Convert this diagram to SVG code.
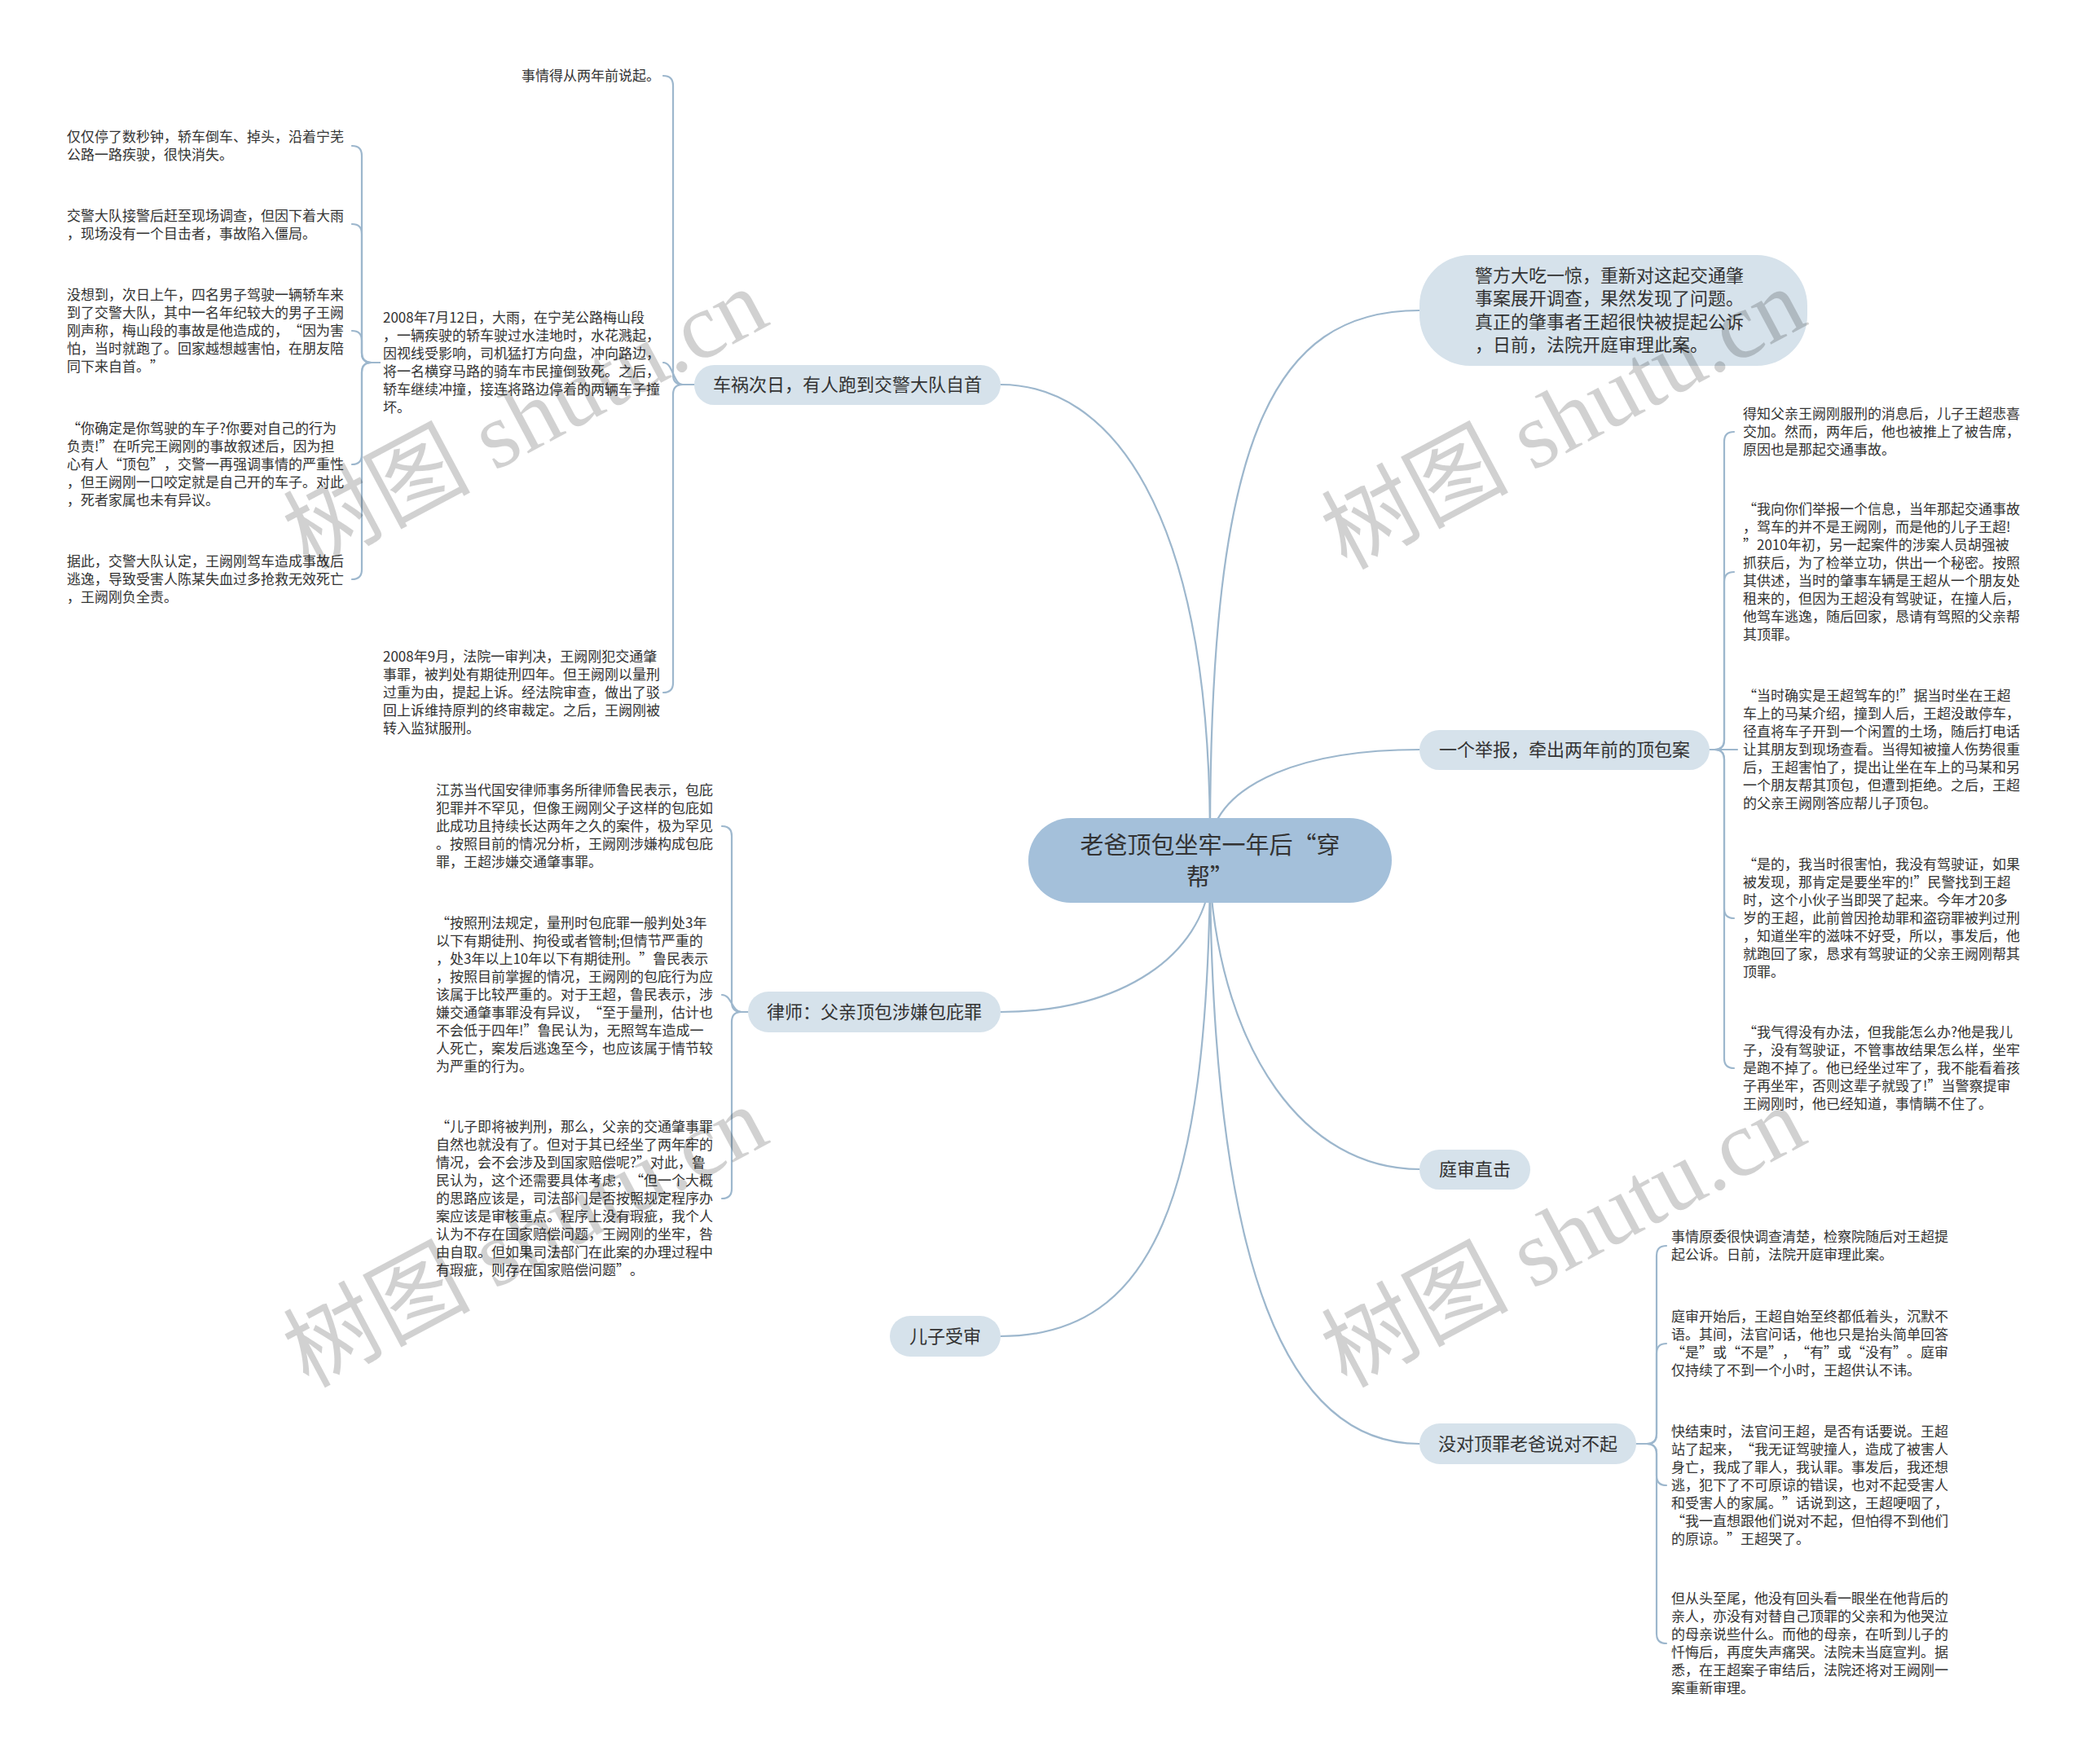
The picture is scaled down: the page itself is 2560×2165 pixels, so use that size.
<svg xmlns="http://www.w3.org/2000/svg" width="2560" height="2165" viewBox="0 0 2560 2165">
<style>
text{text-spacing-trim:space-all}
.lk{fill:none;stroke:#9db7cd;stroke-width:2.2;stroke-linecap:round}
.lf{font-family:'Noto Sans CJK SC','Liberation Sans',sans-serif;font-size:17px;fill:#333}
.n1 rect{fill:#d6e2eb}
.n1 text{font-family:'Noto Sans CJK SC','Liberation Sans',sans-serif;font-size:22px;fill:#333;text-anchor:middle}
.rt rect{fill:#a4c0da}
.rt text{font-family:'Noto Sans CJK SC','Liberation Sans',sans-serif;font-size:29px;fill:#333;text-anchor:middle}
.wm{font-family:'Liberation Serif','Noto Sans CJK SC',serif;font-size:115px;fill:#000;fill-opacity:0.18}
</style>
<rect width="2560" height="2165" fill="#fff"/>
<g id="connectors">
<path class="lk" d="M1485,1030 C1485,540 1560,381 1742,381"/>
<path class="lk" d="M1485,1030 C1485,620 1360,472 1228,472"/>
<path class="lk" d="M1485,1030 C1500,960 1600,920 1742,920"/>
<path class="lk" d="M1485,1080 C1475,1170 1380,1242 1228,1242"/>
<path class="lk" d="M1485,1080 C1500,1290 1600,1435 1742,1435"/>
<path class="lk" d="M1485,1080 C1480,1460 1420,1640 1228,1640"/>
<path class="lk" d="M1485,1080 C1490,1560 1580,1772 1742,1772"/>
<path class="lk" d="M852,472 H838 Q826,472 826,460 V105 Q826,93 814,93"/>
<path class="lk" d="M852,472 H838 C826,472 826,445 814,445"/>
<path class="lk" d="M852,472 H838 Q826,472 826,484 V838 Q826,850 814,850"/>
<path class="lk" d="M466,445 H456 Q444,445 444,433 V191 Q444,179 432,179"/>
<path class="lk" d="M466,445 H456 Q444,445 444,433 V287 Q444,275 432,275"/>
<path class="lk" d="M466,445 H456 Q444,445 444,433 V418 Q444,406 432,406"/>
<path class="lk" d="M466,445 H456 Q444,445 444,457 V558 Q444,570 432,570"/>
<path class="lk" d="M466,445 H456 Q444,445 444,457 V699 Q444,711 432,711"/>
<path class="lk" d="M918,1242 H910 Q898,1242 898,1230 V1026 Q898,1014 886,1014"/>
<path class="lk" d="M918,1242 H910 C898,1242 898,1221 886,1221"/>
<path class="lk" d="M918,1242 H910 Q898,1242 898,1254 V1459 Q898,1471 886,1471"/>
<path class="lk" d="M2098,920 H2104 Q2116,920 2116,908 V542 Q2116,530 2128,530"/>
<path class="lk" d="M2098,920 H2104 Q2116,920 2116,908 V714 Q2116,702 2128,702"/>
<path class="lk" d="M2098,920 H2132"/>
<path class="lk" d="M2098,920 H2104 Q2116,920 2116,932 V1115 Q2116,1127 2128,1127"/>
<path class="lk" d="M2098,920 H2104 Q2116,920 2116,932 V1299 Q2116,1311 2128,1311"/>
<path class="lk" d="M2008,1772 H2021 Q2033,1772 2033,1760 V1541 Q2033,1529 2045,1529"/>
<path class="lk" d="M2008,1772 H2021 Q2033,1772 2033,1760 V1661 Q2033,1649 2045,1649"/>
<path class="lk" d="M2008,1772 H2021 Q2033,1772 2033,1784 V1811 Q2033,1823 2045,1823"/>
<path class="lk" d="M2008,1772 H2021 Q2033,1772 2033,1784 V2005 Q2033,2017 2045,2017"/>
</g>
<g id="node-root" class="rt">
<rect x="1262" y="1004" width="446" height="104" rx="52"/>
<text x="1485" y="1048">老爸顶包坐牢一年后“穿</text>
<text x="1485" y="1087">帮”</text>
</g>
<g id="node-jingfang" class="n1">
<rect x="1742" y="313" width="476" height="136" rx="62"/>
<text x="1810" y="346" style="text-anchor:start">警方大吃一惊，重新对这起交通肇</text>
<text x="1810" y="374" style="text-anchor:start">事案展开调查，果然发现了问题。</text>
<text x="1810" y="403" style="text-anchor:start">真正的肇事者王超很快被提起公诉</text>
<text x="1810" y="431" style="text-anchor:start">，日前，法院开庭审理此案。</text>
</g>
<g id="node-chehuo" class="n1">
<rect x="852" y="448" width="376" height="49" rx="24.5"/>
<text x="1040" y="480">车祸次日，有人跑到交警大队自首</text>
</g>
<g id="node-jubao" class="n1">
<rect x="1742" y="896" width="356" height="49" rx="24.5"/>
<text x="1920" y="928">一个举报，牵出两年前的顶包案</text>
</g>
<g id="node-lvshi" class="n1">
<rect x="918" y="1217" width="310" height="50" rx="25"/>
<text x="1073" y="1250">律师：父亲顶包涉嫌包庇罪</text>
</g>
<g id="node-tingshen" class="n1">
<rect x="1742" y="1411" width="136" height="49" rx="24.5"/>
<text x="1810" y="1443">庭审直击</text>
</g>
<g id="node-erzi" class="n1">
<rect x="1092" y="1615" width="136" height="50" rx="25"/>
<text x="1160" y="1648">儿子受审</text>
</g>
<g id="node-meidui" class="n1">
<rect x="1742" y="1747" width="266" height="50" rx="25"/>
<text x="1875" y="1780">没对顶罪老爸说对不起</text>
</g>
<g id="leaf-a1" class="lf"><text x="640" y="99">事情得从两年前说起。</text></g>
<g id="leaf-a2" class="lf">
<text x="470" y="396">2008年7月12日，大雨，在宁芜公路梅山段</text>
<text x="470" y="418">，一辆疾驶的轿车驶过水洼地时，水花溅起，</text>
<text x="470" y="440">因视线受影响，司机猛打方向盘，冲向路边，</text>
<text x="470" y="462">将一名横穿马路的骑车市民撞倒致死。之后，</text>
<text x="470" y="484">轿车继续冲撞，接连将路边停着的两辆车子撞</text>
<text x="470" y="506">坏。</text>
</g>
<g id="leaf-a3" class="lf">
<text x="470" y="812">2008年9月，法院一审判决，王阙刚犯交通肇</text>
<text x="470" y="834">事罪，被判处有期徒刑四年。但王阙刚以量刑</text>
<text x="470" y="856">过重为由，提起上诉。经法院审查，做出了驳</text>
<text x="470" y="878">回上诉维持原判的终审裁定。之后，王阙刚被</text>
<text x="470" y="900">转入监狱服刑。</text>
</g>
<g id="leaf-l1" class="lf">
<text x="82" y="174">仅仅停了数秒钟，轿车倒车、掉头，沿着宁芜</text>
<text x="82" y="196">公路一路疾驶，很快消失。</text>
</g>
<g id="leaf-l2" class="lf">
<text x="82" y="271">交警大队接警后赶至现场调查，但因下着大雨</text>
<text x="82" y="293">，现场没有一个目击者，事故陷入僵局。</text>
</g>
<g id="leaf-l3" class="lf">
<text x="82" y="368">没想到，次日上午，四名男子驾驶一辆轿车来</text>
<text x="82" y="390">到了交警大队，其中一名年纪较大的男子王阙</text>
<text x="82" y="412">刚声称，梅山段的事故是他造成的，“因为害</text>
<text x="82" y="434">怕，当时就跑了。回家越想越害怕，在朋友陪</text>
<text x="82" y="456">同下来自首。”</text>
</g>
<g id="leaf-l4" class="lf">
<text x="82" y="532">“你确定是你驾驶的车子?你要对自己的行为</text>
<text x="82" y="554">负责!”在听完王阙刚的事故叙述后，因为担</text>
<text x="82" y="576">心有人“顶包”，交警一再强调事情的严重性</text>
<text x="82" y="598">，但王阙刚一口咬定就是自己开的车子。对此</text>
<text x="82" y="620">，死者家属也未有异议。</text>
</g>
<g id="leaf-l5" class="lf">
<text x="82" y="695">据此，交警大队认定，王阙刚驾车造成事故后</text>
<text x="82" y="717">逃逸，导致受害人陈某失血过多抢救无效死亡</text>
<text x="82" y="739">，王阙刚负全责。</text>
</g>
<g id="leaf-b1" class="lf">
<text x="535" y="976">江苏当代国安律师事务所律师鲁民表示，包庇</text>
<text x="535" y="998">犯罪并不罕见，但像王阙刚父子这样的包庇如</text>
<text x="535" y="1020">此成功且持续长达两年之久的案件，极为罕见</text>
<text x="535" y="1042">。按照目前的情况分析，王阙刚涉嫌构成包庇</text>
<text x="535" y="1064">罪，王超涉嫌交通肇事罪。</text>
</g>
<g id="leaf-b2" class="lf">
<text x="535" y="1139">“按照刑法规定，量刑时包庇罪一般判处3年</text>
<text x="535" y="1161">以下有期徒刑、拘役或者管制;但情节严重的</text>
<text x="535" y="1183">，处3年以上10年以下有期徒刑。”鲁民表示</text>
<text x="535" y="1205">，按照目前掌握的情况，王阙刚的包庇行为应</text>
<text x="535" y="1227">该属于比较严重的。对于王超，鲁民表示，涉</text>
<text x="535" y="1249">嫌交通肇事罪没有异议，“至于量刑，估计也</text>
<text x="535" y="1271">不会低于四年!”鲁民认为，无照驾车造成一</text>
<text x="535" y="1293">人死亡，案发后逃逸至今，也应该属于情节较</text>
<text x="535" y="1315">为严重的行为。</text>
</g>
<g id="leaf-b3" class="lf">
<text x="535" y="1389">“儿子即将被判刑，那么，父亲的交通肇事罪</text>
<text x="535" y="1411">自然也就没有了。但对于其已经坐了两年牢的</text>
<text x="535" y="1433">情况，会不会涉及到国家赔偿呢?”对此，鲁</text>
<text x="535" y="1455">民认为，这个还需要具体考虑，“但一个大概</text>
<text x="535" y="1477">的思路应该是，司法部门是否按照规定程序办</text>
<text x="535" y="1499">案应该是审核重点。程序上没有瑕疵，我个人</text>
<text x="535" y="1521">认为不存在国家赔偿问题，王阙刚的坐牢，咎</text>
<text x="535" y="1543">由自取。但如果司法部门在此案的办理过程中</text>
<text x="535" y="1565">有瑕疵，则存在国家赔偿问题”。</text>
</g>
<g id="leaf-c1" class="lf">
<text x="2139" y="514">得知父亲王阙刚服刑的消息后，儿子王超悲喜</text>
<text x="2139" y="536">交加。然而，两年后，他也被推上了被告席，</text>
<text x="2139" y="558">原因也是那起交通事故。</text>
</g>
<g id="leaf-c2" class="lf">
<text x="2139" y="631">“我向你们举报一个信息，当年那起交通事故</text>
<text x="2139" y="653">，驾车的并不是王阙刚，而是他的儿子王超!</text>
<text x="2139" y="675">”2010年初，另一起案件的涉案人员胡强被</text>
<text x="2139" y="697">抓获后，为了检举立功，供出一个秘密。按照</text>
<text x="2139" y="719">其供述，当时的肇事车辆是王超从一个朋友处</text>
<text x="2139" y="741">租来的，但因为王超没有驾驶证，在撞人后，</text>
<text x="2139" y="763">他驾车逃逸，随后回家，恳请有驾照的父亲帮</text>
<text x="2139" y="785">其顶罪。</text>
</g>
<g id="leaf-c3" class="lf">
<text x="2139" y="860">“当时确实是王超驾车的!”据当时坐在王超</text>
<text x="2139" y="882">车上的马某介绍，撞到人后，王超没敢停车，</text>
<text x="2139" y="904">径直将车子开到一个闲置的土场，随后打电话</text>
<text x="2139" y="926">让其朋友到现场查看。当得知被撞人伤势很重</text>
<text x="2139" y="948">后，王超害怕了，提出让坐在车上的马某和另</text>
<text x="2139" y="970">一个朋友帮其顶包，但遭到拒绝。之后，王超</text>
<text x="2139" y="992">的父亲王阙刚答应帮儿子顶包。</text>
</g>
<g id="leaf-c4" class="lf">
<text x="2139" y="1067">“是的，我当时很害怕，我没有驾驶证，如果</text>
<text x="2139" y="1089">被发现，那肯定是要坐牢的!”民警找到王超</text>
<text x="2139" y="1111">时，这个小伙子当即哭了起来。今年才20多</text>
<text x="2139" y="1133">岁的王超，此前曾因抢劫罪和盗窃罪被判过刑</text>
<text x="2139" y="1155">，知道坐牢的滋味不好受，所以，事发后，他</text>
<text x="2139" y="1177">就跑回了家，恳求有驾驶证的父亲王阙刚帮其</text>
<text x="2139" y="1199">顶罪。</text>
</g>
<g id="leaf-c5" class="lf">
<text x="2139" y="1273">“我气得没有办法，但我能怎么办?他是我儿</text>
<text x="2139" y="1295">子，没有驾驶证，不管事故结果怎么样，坐牢</text>
<text x="2139" y="1317">是跑不掉了。他已经坐过牢了，我不能看着孩</text>
<text x="2139" y="1339">子再坐牢，否则这辈子就毁了!”当警察提审</text>
<text x="2139" y="1361">王阙刚时，他已经知道，事情瞒不住了。</text>
</g>
<g id="leaf-d1" class="lf">
<text x="2051" y="1524">事情原委很快调查清楚，检察院随后对王超提</text>
<text x="2051" y="1546">起公诉。日前，法院开庭审理此案。</text>
</g>
<g id="leaf-d2" class="lf">
<text x="2051" y="1622">庭审开始后，王超自始至终都低着头，沉默不</text>
<text x="2051" y="1644">语。其间，法官问话，他也只是抬头简单回答</text>
<text x="2051" y="1666">“是”或“不是”，“有”或“没有”。庭审</text>
<text x="2051" y="1688">仅持续了不到一个小时，王超供认不讳。</text>
</g>
<g id="leaf-d3" class="lf">
<text x="2051" y="1763">快结束时，法官问王超，是否有话要说。王超</text>
<text x="2051" y="1785">站了起来，“我无证驾驶撞人，造成了被害人</text>
<text x="2051" y="1807">身亡，我成了罪人，我认罪。事发后，我还想</text>
<text x="2051" y="1829">逃，犯下了不可原谅的错误，也对不起受害人</text>
<text x="2051" y="1851">和受害人的家属。”话说到这，王超哽咽了，</text>
<text x="2051" y="1873">“我一直想跟他们说对不起，但怕得不到他们</text>
<text x="2051" y="1895">的原谅。”王超哭了。</text>
</g>
<g id="leaf-d4" class="lf">
<text x="2051" y="1968">但从头至尾，他没有回头看一眼坐在他背后的</text>
<text x="2051" y="1990">亲人，亦没有对替自己顶罪的父亲和为他哭泣</text>
<text x="2051" y="2012">的母亲说些什么。而他的母亲，在听到儿子的</text>
<text x="2051" y="2034">忏悔后，再度失声痛哭。法院未当庭宣判。据</text>
<text x="2051" y="2056">悉，在王超案子审结后，法院还将对王阙刚一</text>
<text x="2051" y="2078">案重新审理。</text>
</g>
<g id="watermarks" class="wm">
<text transform="translate(378,700) rotate(-28)">树图 shutu.cn</text>
<text transform="translate(1652,700) rotate(-28)">树图 shutu.cn</text>
<text transform="translate(378,1704) rotate(-28)">树图 shutu.cn</text>
<text transform="translate(1652,1704) rotate(-28)">树图 shutu.cn</text>
</g>
</svg>
